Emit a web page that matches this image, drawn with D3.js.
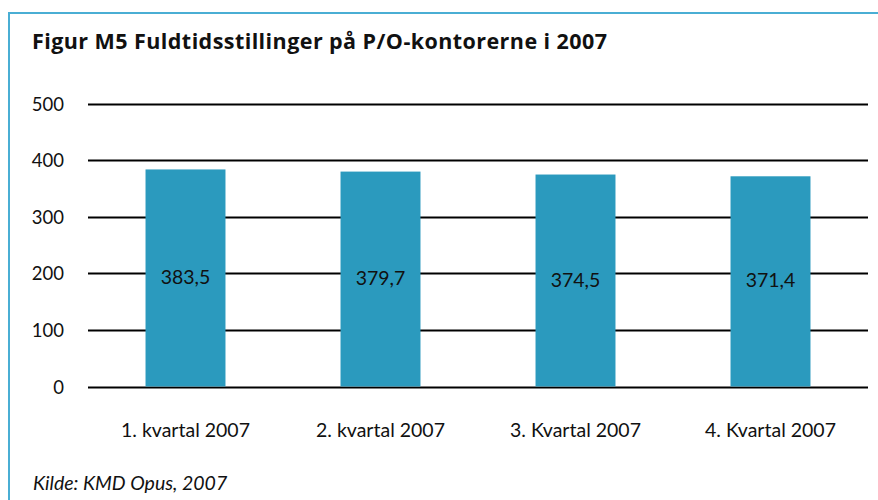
<!DOCTYPE html>
<html>
<head>
<meta charset="utf-8">
<script src="https://cdn.jsdelivr.net/npm/d3@7"></script>
<style>
  html, body { margin: 0; padding: 0; background: #fff; }
  svg { display: block; }
  text { font-family: Lato, "Open Sans", sans-serif; fill: #111; }
</style>
</head>
<body>
<svg id="chart" width="878" height="500"></svg>
<script>
const titleText = "Figur M5 Fuldtidsstillinger på P/O-kontorerne i 2007";
const sourceText = "Kilde: KMD Opus, 2007";
const categories = ["1. kvartal 2007", "2. kvartal 2007", "3. Kvartal 2007", "4. Kvartal 2007"];
const values = [383.5, 379.7, 374.5, 371.4];
const valueLabels = ["383,5", "379,7", "374,5", "371,4"];
const yTicks = [0, 100, 200, 300, 400, 500];

const svg = d3.select("#chart");

// frame
svg.append("path")
  .attr("d", "M9,500 L9,13 L878,13")
  .attr("fill", "none")
  .attr("stroke", "#4aaed4")
  .attr("stroke-width", 2);

svg.append("text")
  .attr("x", 32).attr("y", 49)
  .attr("font-size", 21.5).attr("font-weight", "bold")
  .style("font-family", "'Open Sans', Lato, sans-serif")
  .attr("textLength", 575).attr("lengthAdjust", "spacing")
  .text(titleText);

const x = d3.scaleBand().domain(categories).range([88, 868]).paddingInner(0.59).paddingOuter(0.295);
const y = d3.scaleLinear().domain([0, 500]).range([386.5, 103.5]);

// gridlines
svg.append("g").selectAll("line").data(yTicks).join("line")
  .attr("x1", 88).attr("x2", 868)
  .attr("y1", d => Math.round(y(d)) + 0.5).attr("y2", d => Math.round(y(d)) + 0.5)
  .attr("stroke", "#000").attr("stroke-width", 2);

// y axis labels
const yAxis = d3.axisLeft(y).tickValues(yTicks).tickSize(0).tickPadding(0);
const gy = svg.append("g").attr("transform", "translate(64,0)").call(yAxis);
gy.select(".domain").remove();
gy.selectAll("text").attr("font-size", 18.5).attr("font-family", "Lato, sans-serif").attr("fill", "#111").attr("dy", "0.36em");

// bars
svg.append("g").selectAll("rect").data(values).join("rect")
  .attr("x", (d, i) => x(categories[i]))
  .attr("width", x.bandwidth())
  .attr("y", d => y(d))
  .attr("height", d => y(0) - y(d))
  .attr("fill", "#2b9abe");

// value labels
svg.append("g").selectAll("text").data(values).join("text")
  .attr("x", (d, i) => x(categories[i]) + x.bandwidth() / 2)
  .attr("y", d => (y(d) + y(0)) / 2 + 6)
  .attr("text-anchor", "middle")
  .attr("font-size", 19.5)
  .text((d, i) => valueLabels[i]);

// x axis labels
const xAxis = d3.axisBottom(x).tickSize(0).tickPadding(0);
const gx = svg.append("g").attr("transform", "translate(0,437)").call(xAxis);
gx.select(".domain").remove();
gx.selectAll("text").attr("font-size", 19.5).attr("font-family", "Lato, sans-serif").attr("fill", "#111").attr("dy", 0);

svg.append("text")
  .attr("x", 33).attr("y", 490)
  .attr("font-size", 19.5).attr("font-style", "italic")
  .text(sourceText);
</script>
</body>
</html>
